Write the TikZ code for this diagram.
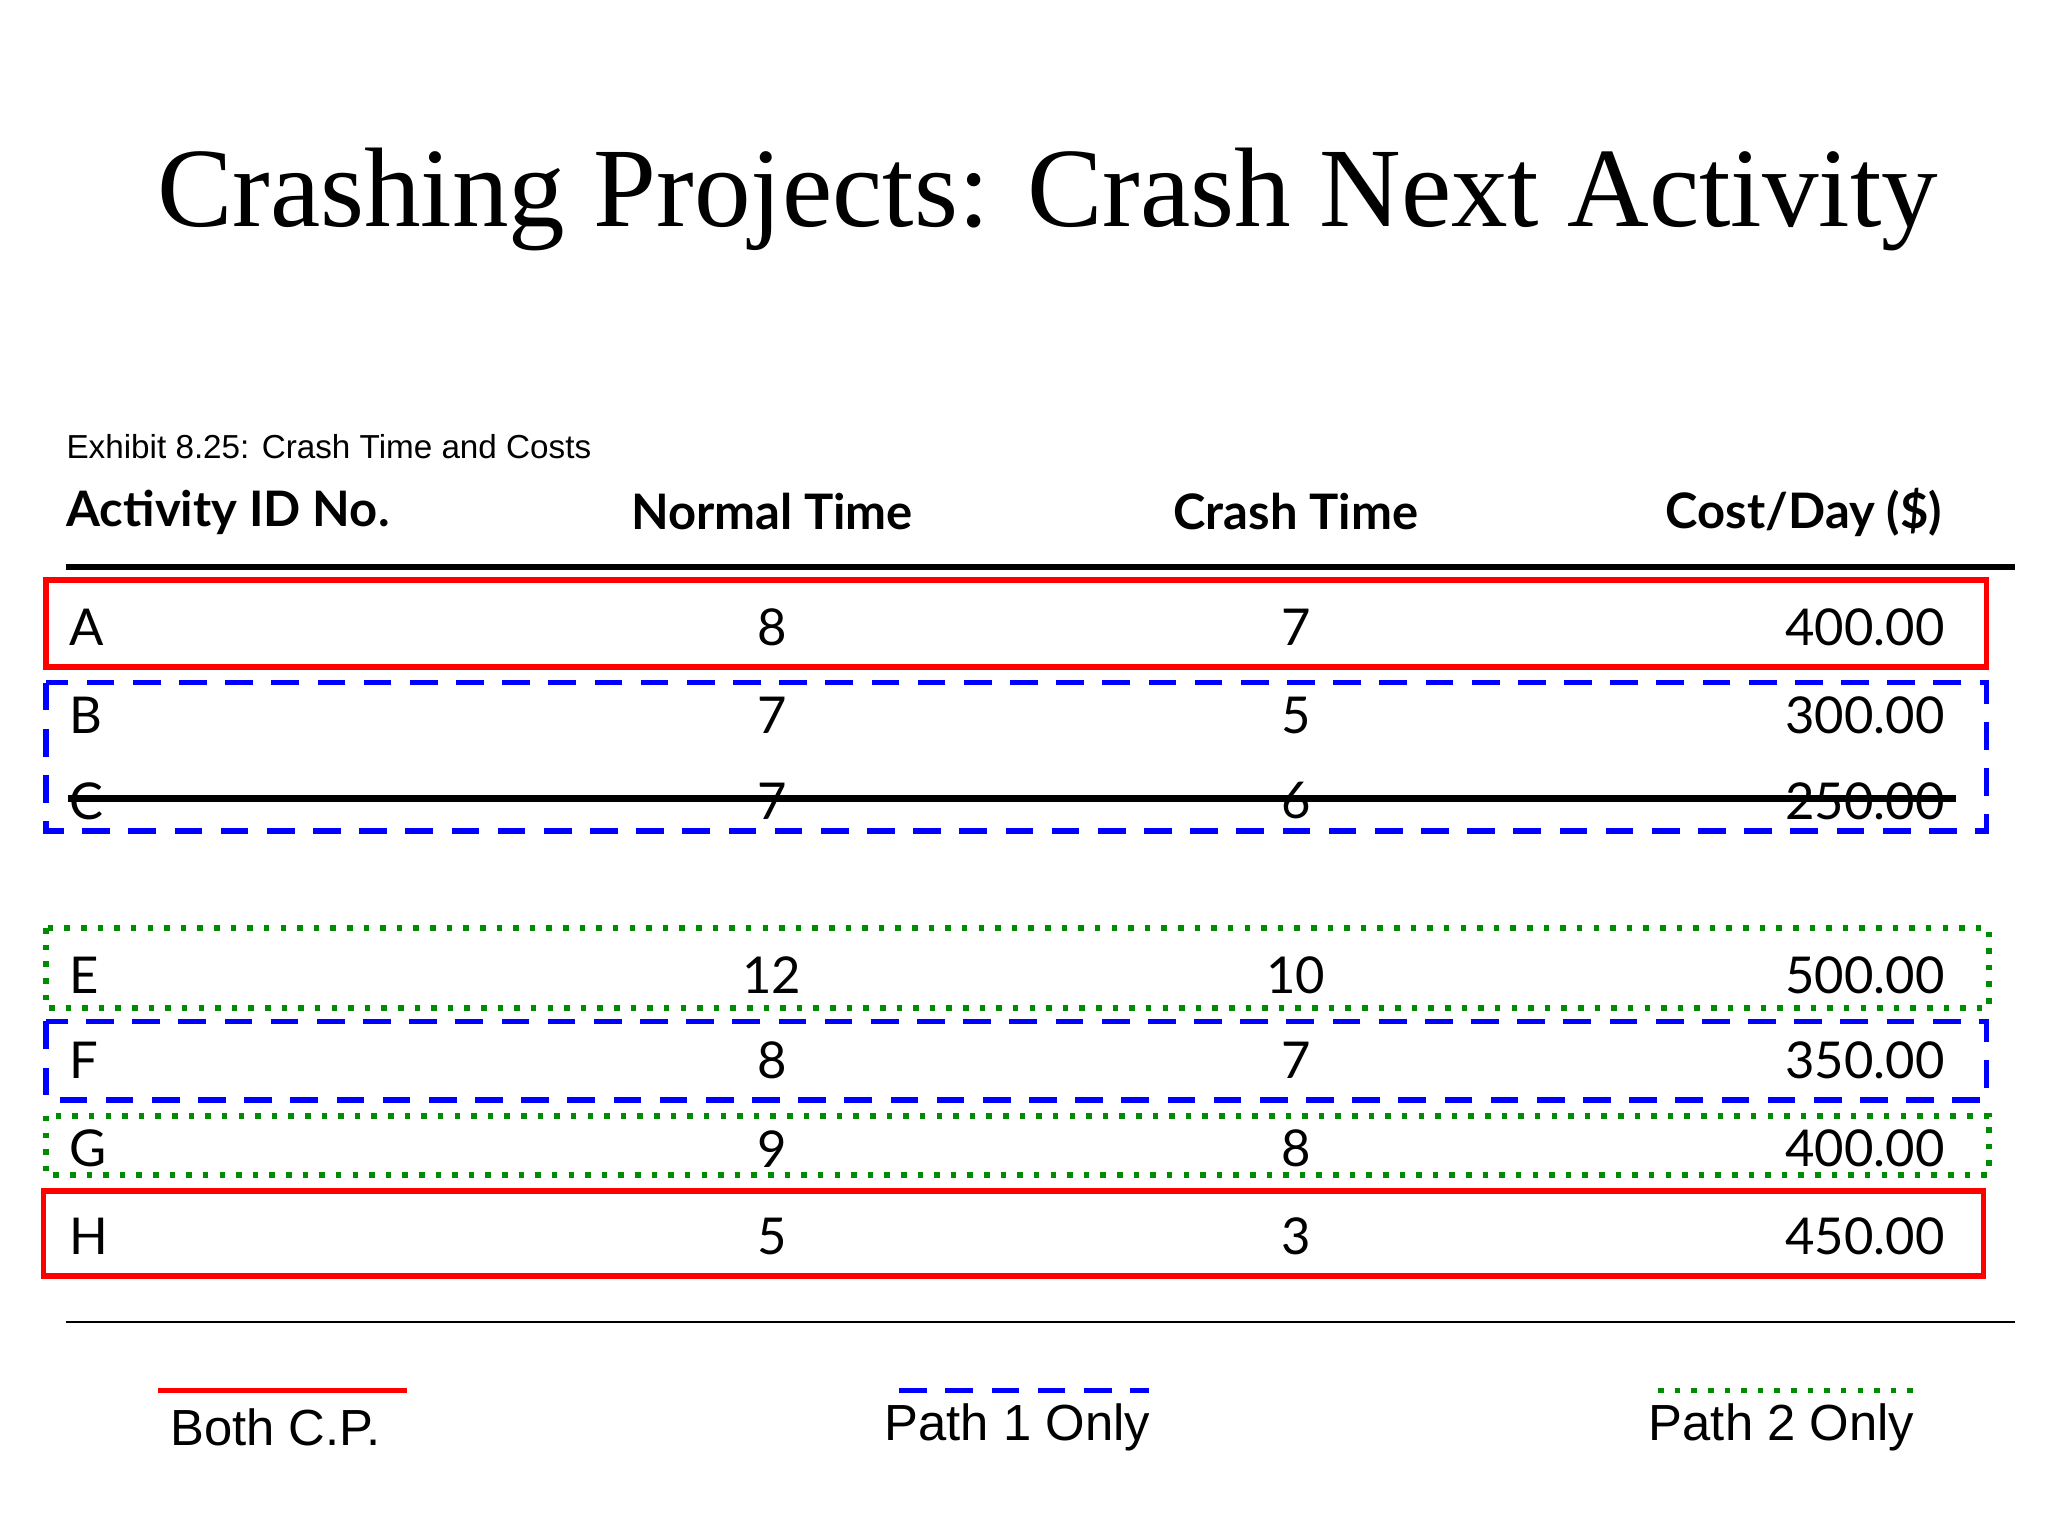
\documentclass[tikz,border=0pt]{standalone}
\usepackage{fontspec}
\setmainfont{Liberation Serif}
\newfontfamily\lsans{Liberation Sans}
\newfontfamily\tabf{Lato}
\newfontfamily\tabb{Lato Bold}
\begin{document}
\begin{tikzpicture}[x=0.01cm,y=-0.01cm,
  hdr/.style={font=\tabb\fontsize{10.6}{13}\selectfont,inner sep=0},
  cell/.style={font=\tabf\fontsize{11}{13}\selectfont,inner sep=0},
  redbox/.style={draw=red,line width=1.2pt},
  bluebox/.style={draw=blue,line width=1.2pt,dash pattern=on 6pt off 4pt},
  greenbox/.style={draw=green!55!black,line width=1.2pt,dash pattern=on 1.2pt off 2.4pt},
  leg/.style={font=\lsans\fontsize{11}{13}\selectfont,inner sep=0}]
\useasboundingbox[fill=white] (0,0) rectangle (1560,1170);
\node[font=\fontsize{24.5}{29}\selectfont] (title) at (798,152) {Crashing Projects: Crash Next Activity};
\node[font=\lsans\fontsize{7.2}{9}\selectfont,anchor=west,inner sep=0] (exh) at (50,340) {Exhibit 8.25: Crash Time and Costs};
\node[hdr,anchor=west] (h1) at (50,390) {Activity ID No.};
\node[hdr] (h2) at (588,390) {Normal Time};
\node[hdr] (h3) at (987,390) {Crash Time};
\node[hdr,anchor=east] (h4) at (1480,390) {Cost/Day (\$)};
\draw[line width=1.2pt] (50,432) -- (1535,432);
% boxes
\draw[redbox] (35,442) rectangle (1513,508);
\draw[bluebox] (35,520) rectangle (1513,633);
\draw[greenbox] (35,707) rectangle (1515,768);
\draw[bluebox] (35,778) rectangle (1513,838);
\draw[greenbox] (35,850) rectangle (1515,895);
\draw[redbox] (33,907) rectangle (1511,972);
% rows
\foreach \id/\y/\n/\c/\d in {A/478/8/7/400.00, B/545/7/5/300.00, C/610/7/6/250.00, E/743/12/10/500.00, F/808/8/7/350.00, G/875/9/8/400.00, H/942/5/3/450.00}{
  \node[cell,anchor=west] (r\id a) at (52,\y) {\id};
  \node[cell] (r\id b) at (588,\y) {\n};
  \node[cell] (r\id c) at (987,\y) {\c};
  \node[cell,anchor=east] (r\id d) at (1482,\y) {\d};
}
\draw[line width=1.5pt] (52,608) -- (1490,608);
\draw[line width=0.5pt] (50,1007) -- (1535,1007);
% legend
\draw[red,line width=1.2pt] (120,1059) -- (310,1059);
\node[leg] (l1) at (210,1087) {Both C.P.};
\draw[blue,line width=1.2pt,dash pattern=on 6pt off 4pt] (685,1059) -- (875,1059);
\node[leg] (l2) at (775,1087) {Path 1 Only};
\draw[green!55!black,line width=1.2pt,dash pattern=on 1.2pt off 2.4pt] (1263,1059) -- (1458,1059);
\node[leg] (l3) at (1357,1087) {Path 2 Only};
\end{tikzpicture}
\end{document}
